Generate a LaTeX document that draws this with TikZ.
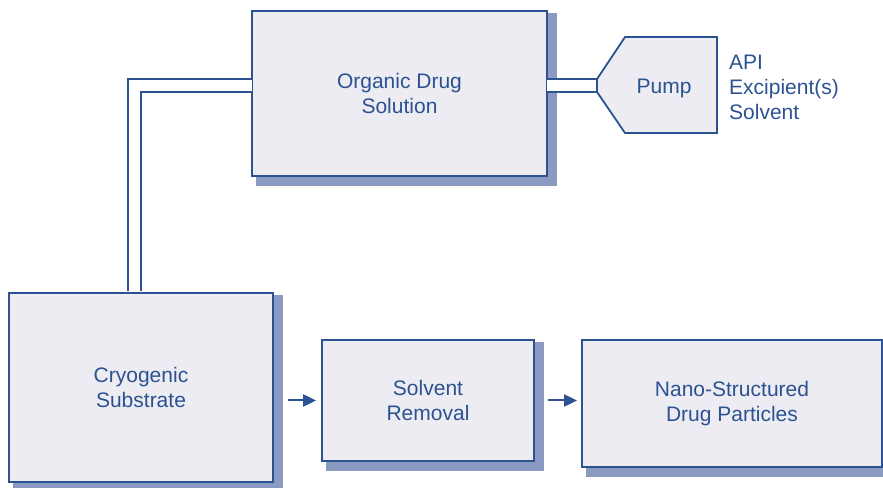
\documentclass[tikz,border=0pt]{standalone}
\usepackage{fontspec}
\setmainfont{Liberation Sans}
\usepackage{tikz}
\usetikzlibrary{arrows.meta, positioning, calc, backgrounds}
\definecolor{boxblue}{RGB}{44,82,145}
\definecolor{boxfill}{RGB}{236,236,242}
\definecolor{shadowblue}{RGB}{138,154,192}
\tikzset{
  block/.style={rectangle, draw=boxblue, fill=boxfill, line width=1.8pt,
    align=center, text=boxblue, font=\fontsize{21}{25}\selectfont},
  plaintext/.style={text=boxblue, align=left, inner sep=0pt,
    font=\fontsize{21}{25}\selectfont},
  tube/.style={draw=boxblue, line width=2pt, double=white, double distance=11pt},
  arrow/.style={-{Triangle[length=13pt,width=12pt]}, line width=2pt, color=boxblue},
  shadowbox/.style={fill=shadowblue}
}

\begin{document}
\begin{tikzpicture}[x=1pt, y=1pt]
  \useasboundingbox (0,0) rectangle (883,487);

  % Boxes
  \node[block, minimum width=295pt, minimum height=165pt] (organic) at (399.5,393.5) {Organic Drug\\Solution};
  \node[block, minimum width=264pt, minimum height=189pt] (cryo) at (141,99.5) {Cryogenic\\Substrate};
  \node[block, minimum width=212pt, minimum height=121pt] (removal) at (428,86.5) {Solvent\\Removal};
  \node[block, minimum width=300pt, minimum height=127pt] (nano) at (732,83.5) {Nano-Structured\\Drug Particles};

  % Shadows
  \begin{scope}[on background layer]
    \foreach \n in {organic, cryo, removal, nano}
      \fill[shadowbox] ([shift={(5pt,-3pt)}]\n.north west) rectangle ([shift={(9pt,-9pt)}]\n.south east);
  \end{scope}

  % Tubes
  \coordinate (pumptip) at (597,401.5);
  \draw[tube] ([xshift=1pt,yshift=8pt]organic.west) -| ([xshift=-6.5pt,yshift=1pt]cryo.north);
  \draw[tube] ([xshift=-1pt,yshift=8pt]organic.east) -- (pumptip);

  % Pump
  \filldraw[draw=boxblue, fill=boxfill, line width=1.8pt]
    ([yshift=6.5pt]pumptip) -- (625,450) -- (717,450) -- (717,354) -- (625,354)
    -- ([yshift=-6.5pt]pumptip) -- cycle;
  \node[plaintext] (pump) at (664,399) {Pump};
  \node[plaintext, anchor=west] (inputs) at (729,400) {API\\Excipient(s)\\Solvent};

  % Arrows
  \draw[arrow] ([xshift=-33pt]removal.west) -- ([xshift=-5pt]removal.west);
  \draw[arrow] ([xshift=13pt]removal.east) -- ([xshift=-4pt]removal.east -| nano.west);
\end{tikzpicture}
\end{document}
